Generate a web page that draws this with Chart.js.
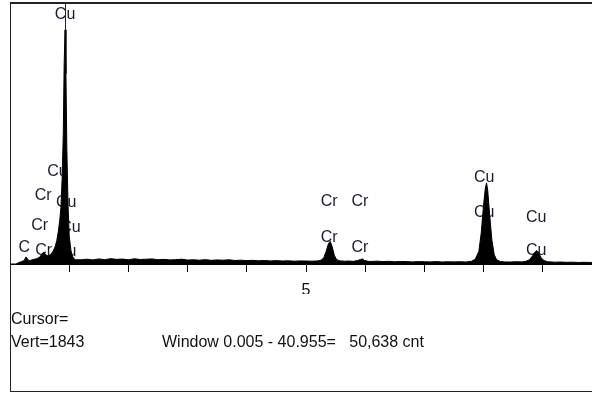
<!DOCTYPE html>
<html>
<head>
<meta charset="utf-8">
<script src="https://cdn.jsdelivr.net/npm/chart.js@4"></script>
<style>
    html, body { margin: 0; padding: 0; overflow: hidden; background: #fff; width: 592px; height: 394px; }
    #wrap { position: relative; width: 592px; height: 394px; overflow: hidden; }
    #frame { position: absolute; left: 10px; top: 2px; width: 620px; height: 387px;
             border-left: 1px solid #222; border-top: 2px solid #222; border-bottom: 1px solid #222; }
    #spectrum { position: absolute; left: 0; top: 0; }
    .info { position: absolute; font: 16px "Liberation Sans", Arial, sans-serif; color: #111; white-space: pre; }
</style>
</head>
<body>
<div id="wrap">
    <div id="frame"></div>
    <canvas id="spectrum" width="602" height="394"></canvas>
    <div class="info" style="left:11px; top:310px;">Cursor=</div>
    <div class="info" style="left:11px; top:333px;">Vert=1843</div>
    <div class="info" style="left:162px; top:333px;">Window 0.005 - 40.955=   50,638 cnt</div>
</div>
<script>
// spectrum, energy in keV and counts
const energyKeV = [
    0.00, 0.10, 0.15, 0.20, 0.24, 0.27, 0.29, 0.32, 0.36, 0.40, 0.45, 0.50, 0.54, 0.57, 0.60, 0.64, 0.68,
    0.72, 0.76, 0.79, 0.82, 0.84, 0.86, 0.88, 0.90, 0.915, 0.93, 0.945, 0.96, 0.98, 1.00, 1.03, 1.06, 1.10,
    1.2, 1.3, 1.4, 1.5, 1.6, 1.7, 1.8, 1.9, 2.0, 2.1, 2.2, 2.3, 2.4, 2.5, 2.6, 2.7, 2.8, 2.9, 3.0,
    3.1, 3.2, 3.3, 3.4, 3.5, 3.6, 3.7, 3.8, 3.9, 4.0, 4.1, 4.2, 4.3, 4.4, 4.5, 4.6, 4.7, 4.8, 4.9,
    5.0, 5.1, 5.2, 5.26, 5.30, 5.34, 5.38, 5.41, 5.44, 5.48, 5.52, 5.58,
    5.65, 5.72, 5.80, 5.87, 5.92, 5.95, 5.99, 6.05, 6.1, 6.2, 6.3, 6.4, 6.5, 6.6, 6.7, 6.8, 6.9,
    7.0, 7.1, 7.2, 7.3, 7.4, 7.5, 7.6, 7.7, 7.8,
    7.86, 7.92, 7.96, 8.00, 8.03, 8.05, 8.07, 8.10, 8.14, 8.18, 8.22, 8.28,
    8.35, 8.45, 8.55, 8.65, 8.72, 8.78, 8.83, 8.87, 8.90, 8.93, 8.97, 9.02, 9.08,
    9.2, 9.3, 9.4, 9.5, 9.6, 9.7, 9.8, 9.9, 10.0
];
const counts = [
    0, 0, 10, 18, 25, 50, 40, 22, 28, 32, 38, 48, 70, 85, 66, 58, 65,
    85, 120, 165, 240, 310, 400, 600, 920, 1420, 1660, 1350, 820, 420, 200, 95, 50, 30,
    30, 34, 29, 36, 31, 38, 33, 35, 30, 37, 32, 34, 36, 30, 33, 29, 31, 34, 28,
    30, 27, 31, 26, 29, 27, 30, 25, 27, 24, 26, 23, 25, 22, 24, 21, 23, 20, 22,
    21, 20, 22, 28, 45, 90, 145, 160, 125, 60, 30, 22,
    20, 21, 19, 24, 32, 36, 25, 19, 18, 20, 17, 19, 16, 18, 17, 15, 17,
    16, 15, 17, 14, 16, 15, 16, 14, 20,
    35, 90, 220, 420, 540, 575, 520, 360, 170, 65, 30, 18,
    15, 14, 16, 15, 20, 32, 60, 85, 95, 80, 45, 25, 16,
    13, 14, 12, 13, 11, 12, 11, 12, 10
];

// peak labels: text, energy (keV), height (counts) of the label centre
const peakLabels = ['Cu', 'Cu', 'Cr', 'Cu', 'Cr', 'Cu', 'C', 'Cr', 'Cu',
                    'Cr', 'Cr', 'Cr', 'Cr', 'Cu', 'Cu', 'Cu', 'Cu'];
const labelKeV = [0.93, 0.80, 0.56, 0.95, 0.50, 1.02, 0.24, 0.57, 0.95,
                  5.39, 5.91, 5.39, 5.91, 8.01, 8.01, 8.89, 8.89];
const labelCounts = [1765, 652, 482, 432, 270, 255, 113, 92, 85,
                     440, 440, 184, 113, 610, 362, 326, 92];

const xTicks = [1, 2, 3, 4, 5, 6, 7, 8, 9];
const xTickLabels = { 5: '5' };
const xMaxKeV = 10;
const vertCounts = 1843;
const cursorKeV = 0.93;

const labelPlugin = {
    id: 'peakLabels',
    beforeDatasetsDraw(chart) {
        const { ctx, scales: { x, y }, chartArea } = chart;
        ctx.save();
        ctx.font = '16px "Liberation Sans", Arial, sans-serif';
        ctx.fillStyle = '#1b1b30';
        ctx.textAlign = 'center';
        ctx.textBaseline = 'middle';
        peakLabels.forEach((t, i) => {
            ctx.fillText(t, x.getPixelForValue(labelKeV[i]), y.getPixelForValue(labelCounts[i]));
        });
        // cursor line
        const cx = Math.round(x.getPixelForValue(cursorKeV)) + 0.5;
        ctx.strokeStyle = '#222';
        ctx.lineWidth = 1;
        ctx.beginPath();
        ctx.moveTo(cx, chartArea.top - 2);
        ctx.lineTo(cx, chartArea.bottom);
        ctx.stroke();
        ctx.restore();
    }
};

new Chart(document.getElementById('spectrum'), {
    type: 'line',
    data: {
        datasets: [{
            data: energyKeV.map((e, i) => ({ x: e, y: counts[i] })),
            borderColor: '#000',
            backgroundColor: '#000',
            borderWidth: 1,
            fill: 'origin',
            tension: 0,
            pointRadius: 0
        }]
    },
    options: {
        responsive: false,
        animation: false,
        layout: { padding: { left: 10, top: 4, right: 0, bottom: 100 } },
        plugins: { legend: { display: false }, tooltip: { enabled: false } },
        scales: {
            x: {
                type: 'linear',
                min: 0,
                max: xMaxKeV,
                afterFit(scale) { scale.height = 30; },
                afterBuildTicks(scale) { scale.ticks = xTicks.map(v => ({ value: v })); },
                border: { display: true, color: '#000', width: 1 },
                grid: { display: true, drawOnChartArea: false, drawTicks: true, tickLength: 8, color: '#000' },
                ticks: {
                    color: '#111',
                    padding: 9,
                    maxRotation: 0,
                    font: { family: '"Liberation Sans", Arial, sans-serif', size: 16 },
                    callback: v => xTickLabels[v] || ''
                }
            },
            y: {
                display: false,
                min: 0,
                max: vertCounts
            }
        }
    },
    plugins: [labelPlugin]
});
</script>
</body>
</html>
